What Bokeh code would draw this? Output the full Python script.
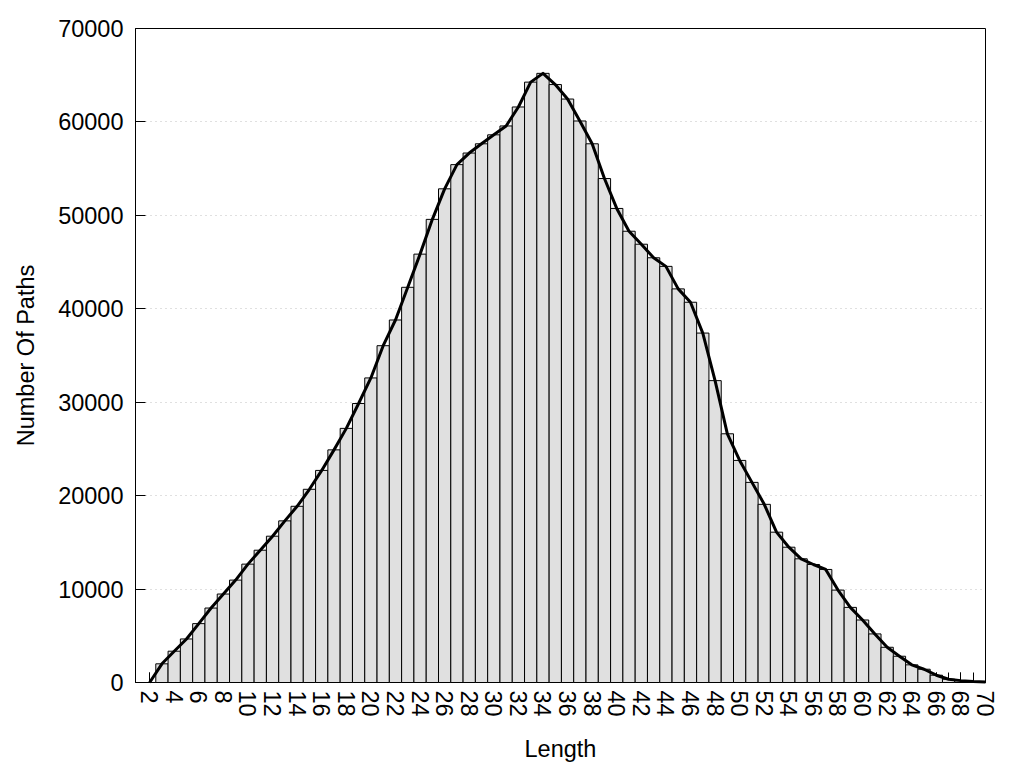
from bokeh.plotting import figure
from bokeh.models import ColumnDataSource, Range1d, FixedTicker, BasicTickFormatter
from bokeh.embed import file_html
from bokeh.resources import INLINE

lengths = list(range(2, 71))
counts = [
    0, 2000, 3350, 4660, 6300, 7970, 9470, 10960, 12670, 14160,
    15660, 17300, 18860, 20680, 22700, 24900, 27200, 29860, 32600, 36050,
    38800, 42300, 45850, 49570, 52840, 55430, 56670, 57660, 58620, 59570,
    61600, 64260, 65200, 64000, 62450, 60100, 57660, 53940, 50740, 48300,
    46910, 45460, 44540, 42130, 40700, 37400, 32310, 26620, 23770, 21420,
    19070, 16090, 14480, 13240, 12630, 12100, 9890, 8040, 6690, 5200,
    3770, 2810, 1890, 1420, 780, 350, 200, 100, 50,
]
x_ticks = list(range(2, 71, 2))
x_minor = list(range(2, 71))
y_ticks = list(range(0, 70001, 10000))

FONT = "Liberation Sans"
FS = "23.5px"

src = ColumnDataSource(data=dict(x=lengths, y=counts))

p = figure(width=1010, height=764, output_backend="svg", toolbar_location=None,
           x_range=Range1d(0.85, 70), y_range=Range1d(0, 70000),
           min_border_left=135, min_border_right=25, min_border_top=28, min_border_bottom=81)

p.vbar(x="x", top="y", width=1, source=src, fill_color="#e0e0e0",
       line_color="black", line_width=1, level="annotation")
p.line(x="x", y="y", source=src, line_color="black", line_width=3,
       line_join="round", level="annotation")

p.outline_line_color = "black"
p.outline_line_width = 1
p.outline_line_alpha = 1
p.background_fill_color = "white"
p.border_fill_color = "white"

p.xgrid.visible = False
p.ygrid.ticker = FixedTicker(ticks=y_ticks)
p.ygrid.grid_line_color = "#c0c0c0"
p.ygrid.grid_line_dash = "1 4"
p.ygrid.grid_line_width = 1

xa = p.xaxis[0]
xa.ticker = FixedTicker(ticks=x_ticks, minor_ticks=x_minor)
xa.major_label_orientation = "vertical"
xa.major_tick_in = 10
xa.major_tick_out = 0
xa.minor_tick_in = 10
xa.minor_tick_out = 0
xa.major_label_standoff = 8
xa.axis_label = "Length"
xa.axis_label_standoff = 16

ya = p.yaxis[0]
ya.ticker = FixedTicker(ticks=y_ticks)
ya.formatter = BasicTickFormatter(use_scientific=False)
ya.major_tick_in = 10
ya.major_tick_out = 0
ya.major_label_standoff = 12
ya.axis_label = "Number Of Paths"
ya.axis_label_standoff = 16

for ax in (xa, ya):
    ax.axis_line_color = "black"
    ax.major_tick_line_color = "black"
    ax.minor_tick_line_color = "black" if ax is xa else None
    ax.major_label_text_font = FONT
    ax.major_label_text_font_size = FS
    ax.major_label_text_color = "black"
    ax.axis_label_text_font = FONT
    ax.axis_label_text_font_size = FS
    ax.axis_label_text_font_style = "normal"
    ax.axis_label_text_color = "black"

open("out.html", "w").write(file_html(p, INLINE))
